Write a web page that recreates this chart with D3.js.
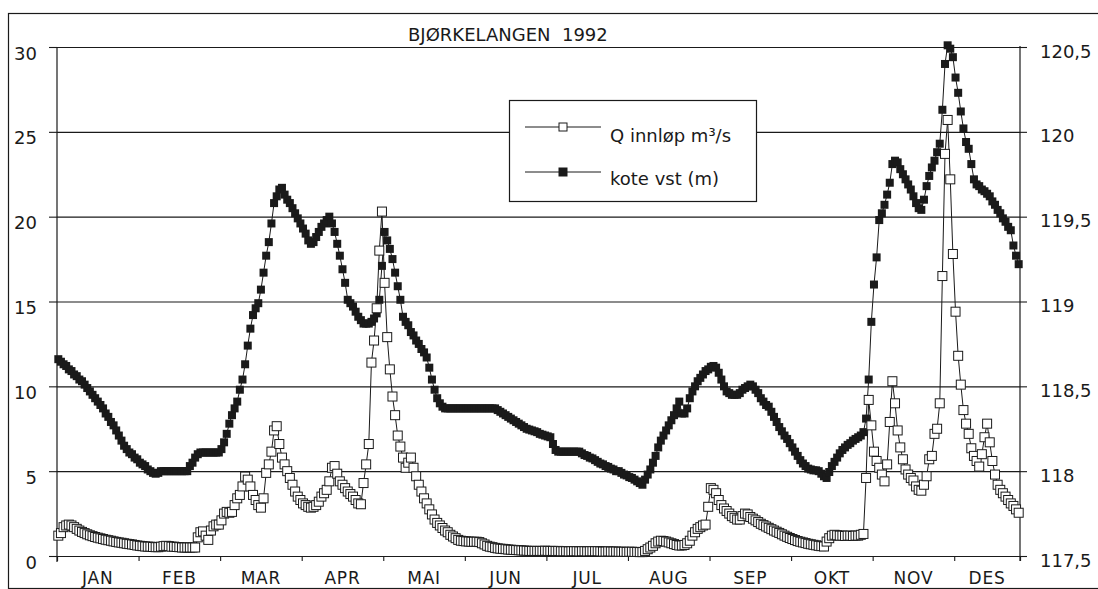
<!DOCTYPE html>
<html>
<head>
<meta charset="utf-8">
<script src="https://cdn.jsdelivr.net/npm/d3@7"></script>
<style>
  html, body { margin: 0; padding: 0; background: #fff; }
  svg { display: block; font-family: "DejaVu Sans", sans-serif; }
</style>
</head>
<body>
<svg id="chart" width="1098" height="589"></svg>
<script>
// Month labels and daily values, 1992 (366 days).
const months = ["JAN", "FEB", "MAR", "APR", "MAI", "JUN", "JUL", "AUG", "SEP", "OKT", "NOV", "DES"];

// Q innløp (m³/s), left axis
const qInnlop = [
  // jan
  1.2, 1.35, 1.7, 1.8, 1.85, 1.8, 1.7, 1.6, 1.5, 1.42, 1.35, 1.28, 1.22, 1.17, 1.12, 1.08,
  1.04, 1.0, 0.96, 0.93, 0.9, 0.86, 0.83, 0.8, 0.78, 0.75, 0.72, 0.7, 0.68, 0.65, 0.62,
  // feb
  0.6, 0.58, 0.56, 0.55, 0.55, 0.53, 0.52, 0.52, 0.55, 0.58, 0.6, 0.58, 0.55, 0.55, 0.53,
  0.52, 0.5, 0.5, 0.5, 0.5, 0.5, 0.5, 1.1, 1.4, 1.45, 1.2, 0.95, 1.5, 1.75,
  // mar
  1.85, 1.85, 2.1, 2.5, 2.6, 2.55, 2.6, 3.0, 3.4, 3.6, 4.1, 4.68, 4.5, 4.1, 3.6, 3.3,
  3.0, 2.85, 3.4, 4.9, 5.4, 6.15, 7.4, 7.65, 6.6, 5.8, 5.4, 5.0, 4.6, 4.2, 3.8,
  // apr
  3.5, 3.3, 3.1, 3.0, 2.9, 2.85, 2.9, 3.0, 3.2, 3.5, 3.7, 3.9, 4.4, 5.2, 5.3,
  4.85, 4.4, 4.2, 4.0, 3.8, 3.65, 3.5, 3.3, 3.1, 3.05, 4.3, 5.4, 6.6, 11.4, 12.7,
  // mai
  14.6, 18.0, 20.3, 16.1, 12.9, 11.0, 9.4, 8.3, 7.1, 6.45, 5.8, 5.2, 5.5, 5.8, 5.2, 4.7,
  4.2, 3.8, 3.4, 3.1, 2.75, 2.45, 2.15, 1.95, 1.8, 1.65, 1.5, 1.4, 1.25, 1.15, 1.05,
  // jun
  0.95, 0.9, 0.88, 0.86, 0.85, 0.84, 0.84, 0.84, 0.82, 0.75, 0.68, 0.6, 0.55, 0.52, 0.48,
  0.45, 0.43, 0.42, 0.4, 0.38, 0.37, 0.36, 0.35, 0.34, 0.33, 0.32, 0.31, 0.3, 0.3, 0.3,
  // jul
  0.3, 0.3, 0.3, 0.31, 0.3, 0.3, 0.3, 0.29, 0.3, 0.28, 0.28, 0.28, 0.27, 0.28, 0.28, 0.28,
  0.27, 0.28, 0.28, 0.27, 0.28, 0.28, 0.28, 0.28, 0.27, 0.26, 0.26, 0.27, 0.26, 0.26, 0.26,
  // aug
  0.25, 0.25, 0.25, 0.24, 0.25, 0.25, 0.24, 0.24, 0.23, 0.23, 0.3, 0.4, 0.5, 0.6, 0.75, 0.85,
  0.9, 0.88, 0.85, 0.8, 0.75, 0.7, 0.65, 0.62, 0.62, 0.65, 0.75, 0.9, 1.2, 1.4, 1.6,
  // sep
  1.7, 1.8, 1.85, 2.9, 4.0, 3.9, 3.7, 3.3, 3.0, 2.8, 2.65, 2.5, 2.35, 2.25, 2.15,
  2.15, 2.35, 2.5, 2.45, 2.3, 2.2, 2.1, 2.0, 1.9, 1.82, 1.74, 1.66, 1.58, 1.5, 1.43,
  // okt
  1.36, 1.28, 1.2, 1.13, 1.06, 1.0, 0.94, 0.88, 0.84, 0.8, 0.76, 0.72, 0.69, 0.66, 0.63, 0.6,
  0.58, 0.56, 0.85, 1.05, 1.2, 1.25, 1.22, 1.2, 1.2, 1.18, 1.2, 1.2, 1.18, 1.2, 1.2,
  // nov
  1.25, 1.3, 4.6, 9.2, 7.7, 6.15, 5.6, 5.2, 4.8, 4.4, 5.4, 7.9, 10.3, 9.0, 7.4,
  6.4, 5.7, 5.1, 4.8, 4.6, 4.45, 4.1, 3.9, 3.85, 4.2, 4.7, 5.7, 5.9, 7.2, 7.5,
  // des
  9.0, 16.5, 23.7, 25.7, 22.2, 17.8, 14.4, 11.8, 10.1, 8.6, 7.8, 7.2, 6.35, 5.9, 5.6, 5.27,
  6.0, 7.0, 7.8, 6.7, 5.6, 4.8, 4.2, 3.9, 3.7, 3.5, 3.3, 3.1, 2.95, 2.75, 2.55
];

// kote vst (m), right axis
const koteVst = [
  // jan
  118.66, 118.645, 118.63, 118.62, 118.60, 118.59, 118.57, 118.56, 118.54, 118.53, 118.51,
  118.49, 118.47, 118.45, 118.43, 118.41, 118.39, 118.37, 118.34, 118.32, 118.29, 118.27,
  118.24, 118.21, 118.18, 118.15, 118.13, 118.11, 118.10, 118.08, 118.07,
  // feb
  118.05, 118.04, 118.03, 118.01, 118.00, 117.99, 117.985, 117.99, 118.00, 118.00, 118.00,
  118.00, 118.00, 118.00, 118.00, 118.00, 118.00, 118.00, 118.00, 118.03, 118.05, 118.08,
  118.10, 118.11, 118.11, 118.11, 118.11, 118.11, 118.11,
  // mar
  118.11, 118.11, 118.13, 118.17, 118.22, 118.28, 118.33, 118.37, 118.41, 118.48, 118.54,
  118.63, 118.74, 118.84, 118.92, 118.96, 118.99, 119.07, 119.17, 119.27, 119.35, 119.46,
  119.58, 119.62, 119.66, 119.67, 119.63, 119.60, 119.58, 119.55, 119.52,
  // apr
  119.49, 119.46, 119.43, 119.40, 119.36, 119.34, 119.35, 119.38, 119.41, 119.44, 119.46,
  119.48, 119.50, 119.46, 119.41, 119.34, 119.27, 119.19, 119.11, 119.01, 118.99, 118.97,
  118.94, 118.91, 118.89, 118.87, 118.87, 118.87, 118.88, 118.90,
  // mai
  118.93, 119.01, 119.21, 119.41, 119.36, 119.31, 119.25, 119.17, 119.09, 119.01, 118.91,
  118.88, 118.86, 118.82, 118.80, 118.77, 118.75, 118.72, 118.70, 118.67, 118.61, 118.54,
  118.48, 118.43, 118.40, 118.38, 118.37, 118.37, 118.37, 118.37, 118.37,
  // jun
  118.37, 118.37, 118.37, 118.37, 118.37, 118.37, 118.37, 118.37, 118.37, 118.37, 118.37,
  118.37, 118.37, 118.37, 118.37, 118.36, 118.35, 118.34, 118.33, 118.32, 118.31, 118.30,
  118.29, 118.28, 118.27, 118.26, 118.25, 118.245, 118.24, 118.235,
  // jul
  118.23, 118.22, 118.215, 118.21, 118.205, 118.20, 118.16, 118.125, 118.115, 118.115,
  118.115, 118.115, 118.115, 118.115, 118.115, 118.115, 118.115, 118.105, 118.095, 118.09,
  118.08, 118.075, 118.065, 118.055, 118.045, 118.04, 118.03, 118.025, 118.015, 118.01, 118.00,
  // aug
  118.00, 117.99, 117.98, 117.975, 117.965, 117.96, 117.95, 117.94, 117.93, 117.92, 117.95,
  117.98, 118.01, 118.05, 118.09, 118.14, 118.18, 118.21, 118.24, 118.27, 118.30, 118.33,
  118.37, 118.41, 118.34, 118.34, 118.37, 118.43, 118.47, 118.50, 118.53,
  // sep
  118.55, 118.57, 118.59, 118.60, 118.615, 118.62, 118.61, 118.58, 118.54, 118.50, 118.47,
  118.46, 118.45, 118.45, 118.45, 118.46, 118.48, 118.49, 118.50, 118.51, 118.50, 118.48,
  118.46, 118.43, 118.41, 118.39, 118.38, 118.35, 118.32, 118.29,
  // okt
  118.26, 118.235, 118.21, 118.19, 118.165, 118.14, 118.115, 118.09, 118.065, 118.045,
  118.03, 118.015, 118.01, 118.005, 118.005, 118.00, 117.985, 117.97, 117.96, 117.995,
  118.03, 118.055, 118.08, 118.105, 118.125, 118.14, 118.155, 118.165, 118.18, 118.19, 118.20,
  // nov
  118.21, 118.23, 118.31, 118.54, 118.88, 119.10, 119.26, 119.48, 119.52, 119.57, 119.63,
  119.70, 119.81, 119.83, 119.82, 119.78, 119.75, 119.72, 119.69, 119.66, 119.62, 119.58,
  119.55, 119.54, 119.60, 119.68, 119.74, 119.79, 119.83, 119.88,
  // des
  119.93, 120.13, 120.40, 120.51, 120.49, 120.44, 120.32, 120.23, 120.12, 120.02, 119.94,
  119.90, 119.81, 119.72, 119.69, 119.68, 119.66, 119.65, 119.635, 119.62, 119.59, 119.57,
  119.54, 119.52, 119.49, 119.47, 119.44, 119.42, 119.33, 119.27, 119.22
];

const leftTicks = [0, 5, 10, 15, 20, 25, 30];
const rightTicks = [117.5, 118, 118.5, 119, 119.5, 120, 120.5];

const svg = d3.select("#chart");
const ink = "#1a1a1a";

// Plot area
const plotL = 57, plotR = 1020, plotT = 47, plotB = 556;
const nDays = qInnlop.length;
const daysPerTick = 31;

const x = d3.scaleLinear().domain([0, nDays]).range([plotL, plotR]);
const yLeft = d3.scaleLinear().domain([0, 30]).range([plotB, plotT]);
const yRight = d3.scaleLinear().domain([117.5, 120.5]).range([plotB, plotT]);

const noLocale = d3.formatLocale({ decimal: ",", thousands: " ", grouping: [3], currency: ["", ""] });
const fmtRight = noLocale.format("~g");

// Outer frame of the scanned page
svg.append("rect")
  .attr("x", 8.5).attr("y", 13.5)
  .attr("width", 1100).attr("height", 575)
  .attr("fill", "none").attr("stroke", ink).attr("stroke-width", 1.2);

// Title
svg.append("text")
  .attr("x", 408).attr("y", 40.5)
  .attr("font-size", 18)
  .attr("fill", ink)
  .style("white-space", "pre")
  .text("BJØRKELANGEN  1992");

// Horizontal gridlines
svg.append("g")
  .attr("transform", `translate(${plotL},0)`)
  .call(d3.axisRight(yLeft).tickValues(leftTicks).tickSize(plotR - plotL).tickFormat(""))
  .call((g) => g.select(".domain").remove())
  .call((g) => g.selectAll("line").attr("stroke", ink).attr("stroke-width", 1.1));

// Left axis
const gLeft = svg.append("g")
  .attr("transform", `translate(${plotL},0)`)
  .call(d3.axisLeft(yLeft).tickValues(leftTicks).tickSize(8).tickPadding(12).tickFormat(d3.format("d")));
gLeft.select(".domain").remove();
gLeft.selectAll("line").attr("stroke", ink).attr("stroke-width", 1.1);
gLeft.selectAll("text")
  .attr("dy", null).attr("y", 12)
  .attr("font-size", 18).attr("font-family", "DejaVu Sans").attr("fill", ink);
svg.append("line")
  .attr("x1", plotL).attr("x2", plotL).attr("y1", plotT).attr("y2", plotB + 6)
  .attr("stroke", ink).attr("stroke-width", 1.2);

// Right axis
const gRight = svg.append("g")
  .attr("transform", `translate(${plotR},0)`)
  .call(d3.axisRight(yRight).tickValues(rightTicks).tickSize(7).tickPadding(13).tickFormat(fmtRight));
gRight.select(".domain").remove();
gRight.selectAll("line").attr("stroke", ink).attr("stroke-width", 1.1);
gRight.selectAll("text")
  .attr("dy", null).attr("y", 10)
  .attr("font-size", 18).attr("font-family", "DejaVu Sans").attr("fill", ink);
svg.append("line")
  .attr("x1", plotR).attr("x2", plotR).attr("y1", plotT - 1).attr("y2", plotB + 5)
  .attr("stroke", ink).attr("stroke-width", 1.2);

// Category axis: tick every 31 days, month label centred between ticks
const tickDays = d3.range(daysPerTick, nDays, daysPerTick);
svg.append("g")
  .attr("transform", `translate(0,${plotB})`)
  .call(d3.axisBottom(x).tickValues(tickDays).tickSize(5).tickFormat(""))
  .call((g) => g.select(".domain").attr("stroke", ink).attr("stroke-width", 1.2))
  .call((g) => g.selectAll("line").attr("stroke", ink).attr("stroke-width", 1.1));

svg.append("g")
  .selectAll("text")
  .data(months)
  .join("text")
  .attr("x", (d, i) => x((i * daysPerTick + Math.min((i + 1) * daysPerTick, nDays)) / 2))
  .attr("y", 584)
  .attr("text-anchor", "middle")
  .attr("font-size", 17)
  .attr("letter-spacing", 0.8)
  .attr("fill", ink)
  .text((d) => d);

// Series
const koteLine = d3.line().x((d, i) => x(i + 0.5)).y((d) => yRight(d));
const qLine = d3.line().x((d, i) => x(i + 0.5)).y((d) => yLeft(d));

svg.append("path")
  .datum(koteVst)
  .attr("d", koteLine)
  .attr("fill", "none").attr("stroke", ink).attr("stroke-width", 1);

svg.append("g")
  .selectAll("rect")
  .data(koteVst)
  .join("rect")
  .attr("x", (d, i) => x(i + 0.5) - 4)
  .attr("y", (d) => yRight(d) - 4)
  .attr("width", 8).attr("height", 8)
  .attr("fill", ink);

svg.append("path")
  .datum(qInnlop)
  .attr("d", qLine)
  .attr("fill", "none").attr("stroke", ink).attr("stroke-width", 1);

svg.append("g")
  .selectAll("rect")
  .data(qInnlop)
  .join("rect")
  .attr("x", (d, i) => x(i + 0.5) - 4.5)
  .attr("y", (d) => yLeft(d) - 4.5)
  .attr("width", 9).attr("height", 9)
  .attr("fill", "#fff").attr("stroke", ink).attr("stroke-width", 1);

// Legend
const legend = svg.append("g");
legend.append("rect")
  .attr("x", 509.5).attr("y", 100.5).attr("width", 247).attr("height", 101)
  .attr("fill", "#fff").attr("stroke", ink).attr("stroke-width", 1.2);

const legendItems = [
  { label: "Q innløp m³/s", y: 127, filled: false, textY: 141.5 },
  { label: "kote vst (m)", y: 172, filled: true, textY: 184.5 },
];
legendItems.forEach((item) => {
  legend.append("line")
    .attr("x1", 525).attr("x2", 601).attr("y1", item.y).attr("y2", item.y)
    .attr("stroke", ink).attr("stroke-width", 1);
  legend.append("rect")
    .attr("x", 563 - 4).attr("y", item.y - 4).attr("width", 8).attr("height", 8)
    .attr("fill", item.filled ? ink : "#fff").attr("stroke", ink).attr("stroke-width", 1);
  legend.append("text")
    .attr("x", 610).attr("y", item.textY)
    .attr("font-size", 18).attr("fill", ink)
    .text(item.label);
});
</script>
</body>
</html>
